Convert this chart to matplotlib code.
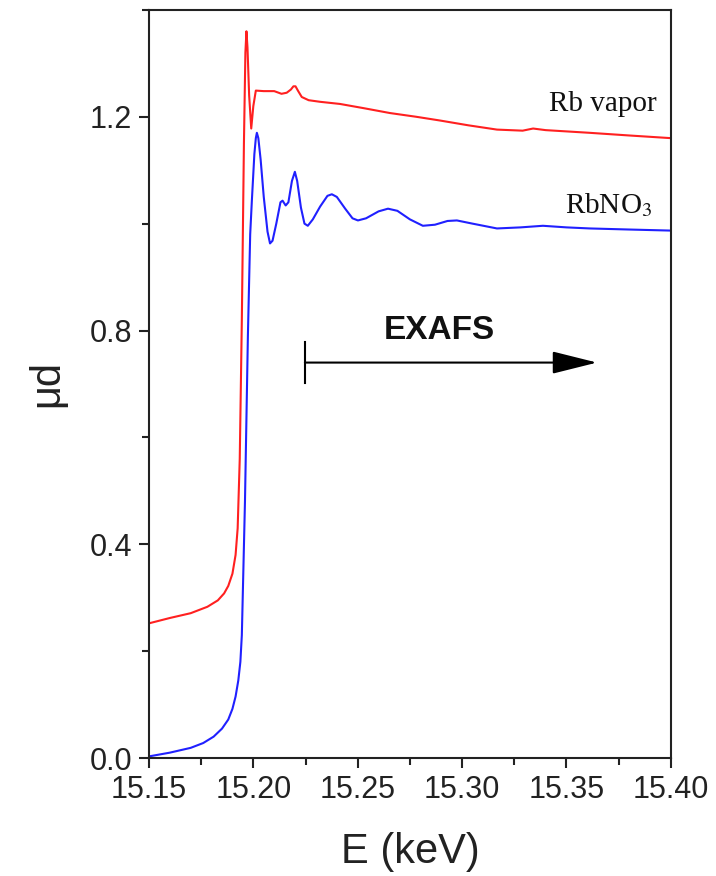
import numpy as np
import matplotlib
matplotlib.use("Agg")
import matplotlib.pyplot as plt
from matplotlib.ticker import MultipleLocator, FormatStrFormatter

# -----------------------------
# DATA
# -----------------------------
E_vapor = [15.150, 15.160, 15.170, 15.178, 15.183, 15.186, 15.188, 15.190,
           15.1915, 15.1925, 15.1935, 15.1945, 15.1955, 15.1962, 15.1967,
           15.1972, 15.1980, 15.1990, 15.2000, 15.2012, 15.205, 15.210,
           15.2135, 15.2160, 15.2180, 15.2192, 15.2202, 15.2215, 15.2232,
           15.2265, 15.2320, 15.2415, 15.2530, 15.2654, 15.2780, 15.2894,
           15.3030, 15.3167, 15.3290, 15.3340, 15.3400, 15.3610, 15.3800,
           15.4000]
mu_vapor = [0.252, 0.262, 0.271, 0.283, 0.295, 0.308, 0.322, 0.345,
            0.380, 0.430, 0.560, 0.820, 1.150, 1.320, 1.360,
            1.330, 1.240, 1.178, 1.220, 1.249, 1.248, 1.248,
            1.243, 1.245, 1.251, 1.257, 1.257, 1.248, 1.237,
            1.231, 1.228, 1.224, 1.216, 1.207, 1.200, 1.193,
            1.184, 1.176, 1.174, 1.178, 1.175, 1.170, 1.165,
            1.160]

E_nitrate = [15.150, 15.160, 15.170, 15.176, 15.181, 15.185, 15.188, 15.190,
             15.1915, 15.1928, 15.1938, 15.1945, 15.196, 15.1974, 15.1985,
             15.1993, 15.2005, 15.2012, 15.2017, 15.2024, 15.2035, 15.2050,
             15.2068, 15.2080, 15.2092, 15.2110, 15.2130, 15.2140, 15.2155,
             15.2168, 15.2185, 15.2199, 15.2210, 15.2228, 15.2245, 15.2261,
             15.2285, 15.2320, 15.2355, 15.2376, 15.2400, 15.2440, 15.2475,
             15.2501, 15.2540, 15.2600, 15.2645, 15.2690, 15.2750, 15.2812,
             15.2870, 15.2930, 15.2975, 15.3050, 15.3167, 15.3280, 15.3387,
             15.3500, 15.3612, 15.3800, 15.4000]
mu_nitrate = [0.003, 0.010, 0.019, 0.028, 0.040, 0.055, 0.072, 0.092,
              0.115, 0.145, 0.180, 0.230, 0.480, 0.790, 0.980,
              1.043, 1.130, 1.160, 1.170, 1.160, 1.120, 1.050,
              0.985, 0.963, 0.968, 1.000, 1.040, 1.043, 1.034,
              1.040, 1.080, 1.097, 1.080, 1.030, 1.000, 0.996,
              1.008, 1.032, 1.052, 1.055, 1.050, 1.028, 1.010,
              1.006, 1.010, 1.023, 1.028, 1.024, 1.008, 0.996,
              0.998, 1.005, 1.006, 1.000, 0.991, 0.993, 0.996,
              0.993, 0.991, 0.989, 0.987]

x_ticks = [15.15, 15.20, 15.25, 15.30, 15.35, 15.40]
y_ticks = [0.0, 0.4, 0.8, 1.2]

exafs_start = 15.2247
exafs_end = 15.3646
exafs_level = 0.740

# -----------------------------
# PLOT
# -----------------------------
plt.rcParams['font.family'] = ['Liberation Sans', 'DejaVu Sans']
plt.rcParams['mathtext.fontset'] = 'stix'

fig = plt.figure(figsize=(7.16, 8.76), dpi=100)
ax = fig.add_axes([0.208, 0.1347, 0.729, 0.854])

ax.plot(E_vapor, mu_vapor, color='#ff2020', lw=1.5)
ax.plot(E_nitrate, mu_nitrate, color='#2020ff', lw=1.5)

ax.set_xlim(15.15, 15.40)
ax.set_ylim(0.0, 1.4)
ax.set_xticks(x_ticks)
ax.set_yticks(y_ticks)
ax.xaxis.set_minor_locator(MultipleLocator(0.025))
ax.yaxis.set_minor_locator(MultipleLocator(0.2))
ax.xaxis.set_major_formatter(FormatStrFormatter('%.2f'))
ax.yaxis.set_major_formatter(FormatStrFormatter('%.1f'))

ax.tick_params(which='major', direction='out', length=7, width=1.5,
               labelsize=22, colors='#222222', pad=5)
ax.tick_params(which='minor', direction='out', length=5, width=1.5,
               colors='#222222')
for sp in ax.spines.values():
    sp.set_linewidth(1.5)
    sp.set_color('#222222')

ax.set_xlabel("E (keV)", fontsize=30, color='#222222', labelpad=20)
ax.set_ylabel("μd", fontsize=30, color='#222222', labelpad=16)

# curve labels
serif = ['Liberation Serif', 'DejaVu Serif']
ax.text(15.3933, 1.223, "Rb vapor", family=serif, fontsize=21,
        ha='right', va='center', color='#111111')
ax.text(15.391, 1.035, "RbNO$_3$", family=serif, fontsize=21,
        ha='right', va='center', color='#111111')

# EXAFS arrow
ax.annotate("", xy=(exafs_end, exafs_level), xytext=(exafs_start, exafs_level),
            arrowprops=dict(arrowstyle='-|>,head_length=2.8,head_width=0.7',
                            color='black', lw=1.5, shrinkA=0, shrinkB=0))
ax.plot([exafs_start, exafs_start], [exafs_level - 0.038, exafs_level + 0.038],
        color='black', lw=1.5)
ax.text(15.2889, 0.800, "EXAFS", fontsize=24, fontweight='bold',
        ha='center', va='center', color='#111111')

fig.savefig("out.png", dpi=100)
